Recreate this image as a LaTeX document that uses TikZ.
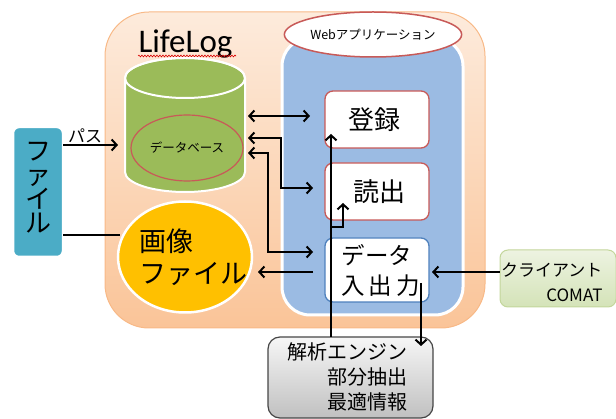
\documentclass[tikz,border=0pt]{standalone}
\usepackage{fontspec}
\setmainfont{Noto Sans CJK JP}
\newfontfamily\carlito{Carlito}
\usetikzlibrary{arrows.meta,shapes.geometric,decorations.pathmorphing}
\definecolor{orTop}{RGB}{253,235,220}
\definecolor{orBot}{RGB}{250,196,152}
\definecolor{orLine}{RGB}{248,185,135}
\definecolor{webBlue}{RGB}{155,187,227}
\definecolor{dbGreen}{RGB}{155,187,89}
\definecolor{fileCyan}{RGB}{75,172,198}
\definecolor{imgGold}{RGB}{255,192,0}
\definecolor{redB}{RGB}{200,90,88}
\definecolor{blueB}{RGB}{79,129,189}
\definecolor{clTop}{RGB}{237,243,225}
\definecolor{clBot}{RGB}{212,227,184}
\definecolor{clLine}{RGB}{195,214,155}
\definecolor{anTop}{RGB}{246,246,246}
\definecolor{anBot}{RGB}{192,192,192}
\definecolor{anLine}{RGB}{70,70,70}
\tikzset{
  fsz/.style={font=\fontsize{#1}{#1}\selectfont},
  box/.style={rectangle, rounded corners=8pt, fill=white, line width=1.3pt, minimum width=104pt, inner sep=0pt},
  arr/.style={line width=2pt, -{Straight Barb[length=5pt,width=11pt]}},
  darr/.style={line width=2pt, {Straight Barb[length=5pt,width=11pt]}-{Straight Barb[length=5pt,width=11pt]}},
  plain/.style={line width=2pt}
}
\begin{document}
\begin{tikzpicture}[x=1pt,y=-1pt]
\clip (0,0) rectangle (616,419);
\useasboundingbox (0,0) rectangle (616,419);
% outer LifeLog area
\node[rectangle, rounded corners=44pt, top color=orTop, bottom color=orBot, draw=orLine, line width=1pt,
      minimum width=380pt, minimum height=316pt, inner sep=0pt] (life) at (295,170) {};
\node[font=\carlito\fontsize{33}{33}\selectfont, anchor=base] (title) at (185.5,53) {LifeLog};
\draw[red!85!black, line width=0.6pt, decorate, decoration={snake, amplitude=0.9pt, segment length=3pt}] (138,56) -- (236,56);
% web application area
\node[rectangle, rounded corners=28pt, fill=webBlue, draw=white, line width=3pt,
      minimum width=181pt, minimum height=277pt, inner sep=0pt] (web) at (372.5,176.5) {};
\node[ellipse, fill=white, draw=redB, line width=1.5pt, minimum width=146pt, minimum height=45pt, inner sep=0pt,
      fsz=12.5] (weblabel) at (373,34.5) {Webアプリケーション};
% database cylinder
\path[fill=dbGreen, draw=white, line width=2pt] (125,78) -- (125,172)
   arc[start angle=180, end angle=0, x radius=60, y radius=20] -- (245,78)
   arc[start angle=0, end angle=-180, x radius=60, y radius=20] -- cycle;
\draw[white, line width=2pt] (185,78) ellipse [x radius=60, y radius=20];
\node[ellipse, draw=redB, line width=1.2pt, minimum width=112pt, minimum height=66pt, inner sep=0pt,
      fsz=12.5] (db) at (187,148) {データベース};
% file box
\node[rectangle, rounded corners=6pt, fill=fileCyan, draw=white, line width=2.5pt,
      minimum width=50pt, minimum height=130pt, inner sep=0pt] (file) at (38,192) {};
\node[align=center, font=\fontsize{26}{24}\selectfont] (filetxt) at (38,188) {フ\\ァ\\イ\\ル};
% image file ellipse
\node[ellipse, fill=imgGold, draw=white, line width=2.5pt, minimum width=134pt, minimum height=111pt, inner sep=0pt] (img) at (185,257) {};
\node[anchor=west, align=left, font=\fontsize{27}{32}\selectfont] (imgtxt) at (136,257) {画像\\ファイル};
% boxes
\node[box, draw=redB, minimum height=57pt, fsz=26] (reg) at (377,119.5) {\hspace*{-6pt}登録};
\node[box, draw=redB, minimum height=57pt, fsz=26] (read) at (377,191.5) {\hspace*{4pt}読出};
\node[box, draw=blueB, minimum height=64pt] (dio) at (377,270) {};
\node[anchor=west, align=left, font=\fontsize{23.5}{30}\selectfont] (diotxt) at (338,270) {データ\\入\,出\,力};
% client
\node[rectangle, rounded corners=8pt, top color=clTop, bottom color=clBot, draw=clLine, line width=1pt,
      minimum width=116pt, minimum height=57pt, inner sep=0pt] (client) at (558,278.5) {};
\node[anchor=east, align=right, font=\fontsize{17}{25}\selectfont] (clienttxt) at (606,282) {クライアント\\COMAT};
% analysis engine
\node[rectangle, rounded corners=12pt, top color=anTop, bottom color=anBot, draw=anLine, line width=1.2pt,
      minimum width=165pt, minimum height=81pt, inner sep=0pt] (ana) at (350.5,377.5) {};
\node[anchor=east, align=right, font=\fontsize{20}{25}\selectfont] (anatxt) at (411,377) {解析エンジン\\部分抽出\\最適情報};
% pass label
\node[fsz=17] (pass) at (85,136) {パス};
% connector coordinates
\coordinate (fileA) at (63,145);   \coordinate (dbIn) at (118,145);
\coordinate (fileB) at (63,235);   \coordinate (imgIn) at (120,235);
\coordinate (dbA) at (248,116);    \coordinate (webA) at (310,116);
\coordinate (dbB) at (248,138);    \coordinate (webB) at (313,188);
\coordinate (dbC) at (248,153);    \coordinate (webC) at (313,252);
\coordinate (webD) at (313,272);   \coordinate (imgR) at (258,272);
\coordinate (clIn) at (432,272);
\coordinate (dioOut) at (421,283); \coordinate (anaIn) at (421,346);
\coordinate (anaOut) at (331,337); \coordinate (regIn) at (331,134);
\coordinate (br) at (331,227);     \coordinate (readIn) at (343,203);
% connectors
\draw[arr] (fileA) -- (dbIn);
\draw[plain] (fileB) -- (imgIn);
\draw[darr] (dbA) -- (webA);
\draw[darr] (dbB) -- (281,138) |- (webB);
\draw[darr] (dbC) -- (268,153) |- (webC);
\draw[arr] (webD) -- (imgR);
\draw[arr] (client.west |- clIn) -- (clIn);
\draw[arr] (dioOut) -- (anaIn);
\draw[arr] (anaOut) -- (regIn);
\draw[arr] (br) -| (readIn);
\end{tikzpicture}
\end{document}
